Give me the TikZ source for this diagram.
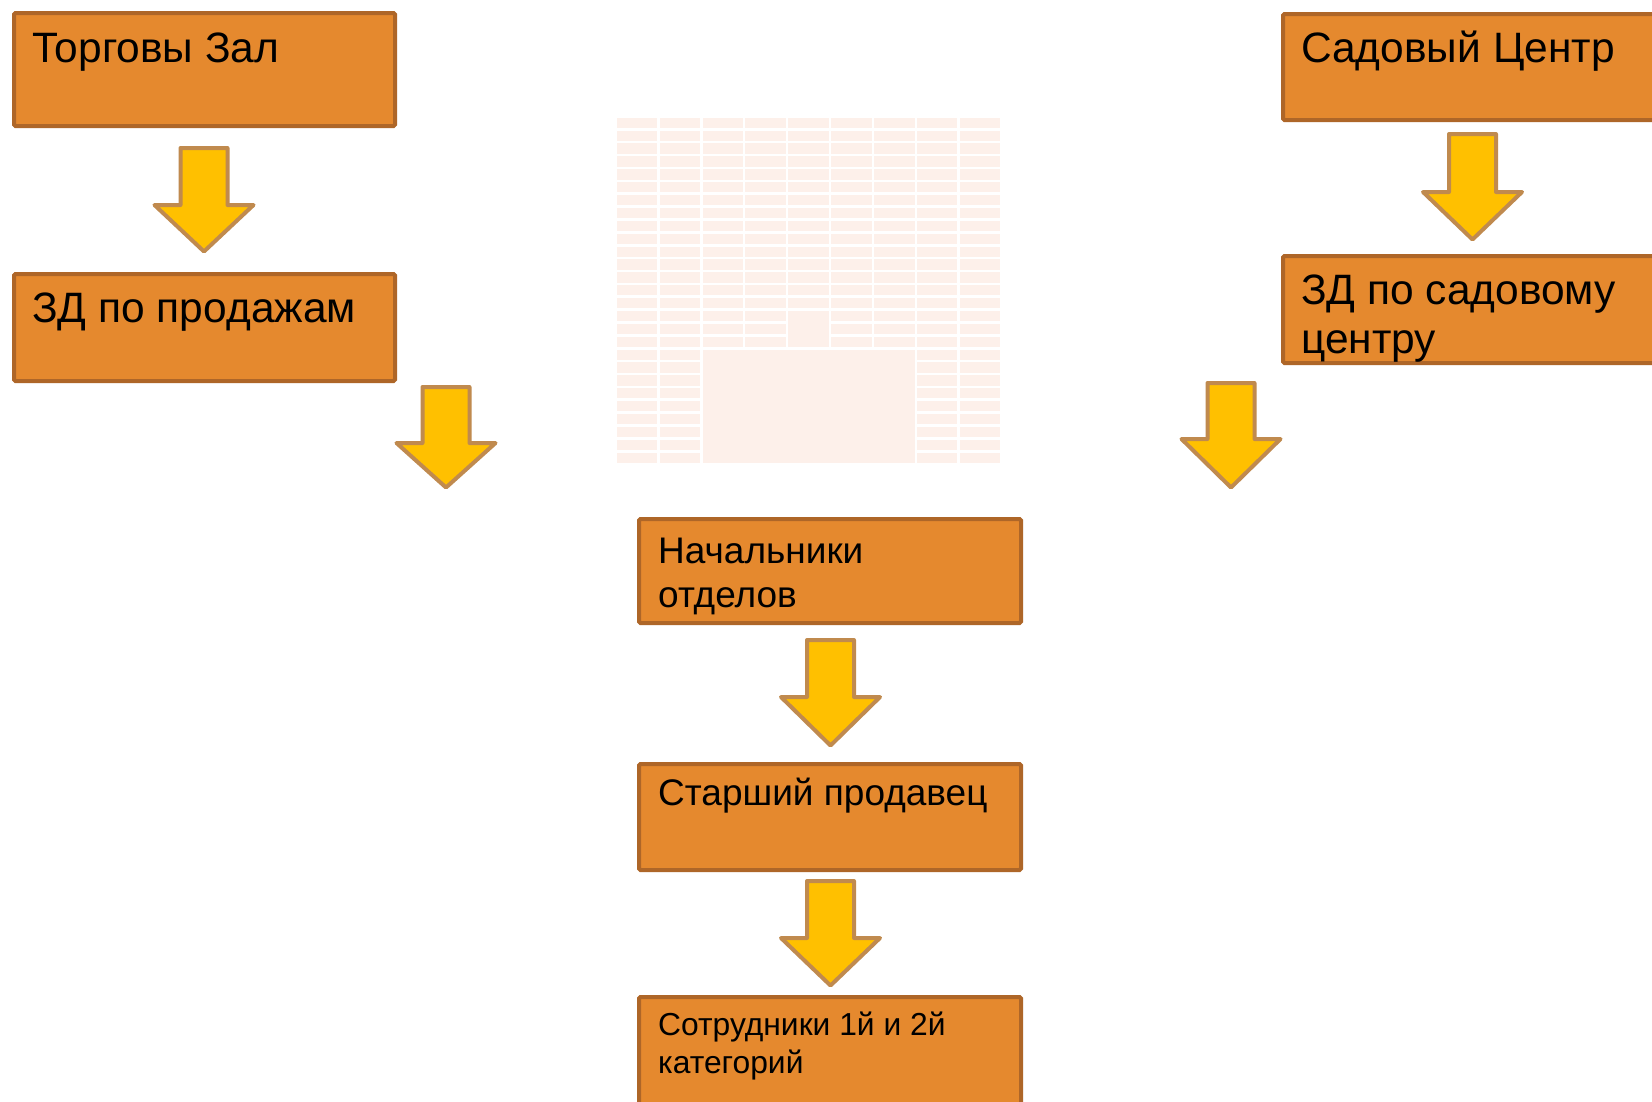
\documentclass[tikz,border=0pt]{standalone}
\usepackage{fontspec}
\setmainfont{Liberation Sans}
\definecolor{boxfill}{HTML}{E5892E}
\definecolor{boxline}{HTML}{AE6628}
\definecolor{arrfill}{HTML}{FFC000}
\definecolor{arrline}{HTML}{C08A4E}
\definecolor{gridfill}{HTML}{FDF0EA}
\tikzset{
  orgbox/.style={draw=boxline, fill=boxfill, line width=4pt, rounded corners=1.5pt, inner sep=0pt, rectangle},
  blockarr/.style={draw=arrline, fill=arrfill, line width=4pt, line join=round},
  bigtxt/.style={inner sep=0pt, anchor=base west, font=\fontsize{42.5}{49}\selectfont},
  midtxt/.style={inner sep=0pt, anchor=base west, font=\fontsize{37}{44}\selectfont},
  smalltxt/.style={inner sep=0pt, anchor=base west, font=\fontsize{31.8}{38}\selectfont},
  gridcell/.style={fill=gridfill}
}
\newcommand\downarrowblk[4]{%
  \draw[blockarr] ({#1-23.5},#2) -- ({#1+23.5},#2) -- ({#1+23.5},#3) -- ({#1+49.5},#3) -- (#1,#4) -- ({#1-49.5},#3) -- ({#1-23.5},#3) -- cycle;}
\begin{document}
\begin{tikzpicture}[x=1pt,y=-1pt]
\useasboundingbox (0,0) rectangle (1652,1101);
\clip (0,0) rectangle (1652,1101);
\fill[white] (0,0) rectangle (1652,1101);
% faint background grid
\foreach \c in {0,...,8}{
  \foreach \r in {0,...,26}{
    \fill[gridcell] ({616.7+\c*42.92},{117.7+\r*12.88}) rectangle ++(40.3,10.3);
  }
}
\fill[gridcell] (788.4,310.9) rectangle (828.7,347.0);
\fill[gridcell] (702.5,349.5) rectangle (914.5,462.9);
% boxes
\node[orgbox, minimum width=381pt, minimum height=113pt] (b1) at (204.5,69.5) {};
\node[orgbox, minimum width=381pt, minimum height=107pt] (b2) at (204.5,327.5) {};
\node[orgbox, minimum width=375pt, minimum height=106pt] (b3) at (1470.5,67) {};
\node[orgbox, minimum width=375pt, minimum height=107pt] (b4) at (1470.5,309.5) {};
\node[orgbox, minimum width=382pt, minimum height=104pt] (b5) at (830,571) {};
\node[orgbox, minimum width=382pt, minimum height=106pt] (b6) at (830,817) {};
\node[orgbox, minimum width=382pt, minimum height=111pt] (b7) at (830,1052.5) {};
% texts
\node[bigtxt] (t1) at (32,62) {Торговы Зал};
\node[bigtxt] (t2) at (32,322) {ЗД по продажам};
\node[bigtxt] (t3) at (1301,62) {Садовый Центр};
\node[bigtxt] (t4a) at (1301,304) {ЗД по садовому};
\node[bigtxt] (t4b) at (1301,353) {центру};
\node[midtxt] (t5a) at (658,563) {Начальники};
\node[midtxt] (t5b) at (658,607) {отделов};
\node[midtxt] (t6) at (658,805) {Старший продавец};
\node[smalltxt] (t7a) at (658,1035) {Сотрудники 1й и 2й};
\node[smalltxt] (t7b) at (658,1073) {категорий};
% block arrows
\downarrowblk{204}{148}{205}{251.5}
\downarrowblk{446}{387}{443}{487.5}
\downarrowblk{1472.5}{134}{192}{239.5}
\downarrowblk{1231}{383}{439}{487.5}
\downarrowblk{830.5}{640}{697}{745.5}
\downarrowblk{830.5}{881}{938}{985.5}
\end{tikzpicture}
\end{document}
